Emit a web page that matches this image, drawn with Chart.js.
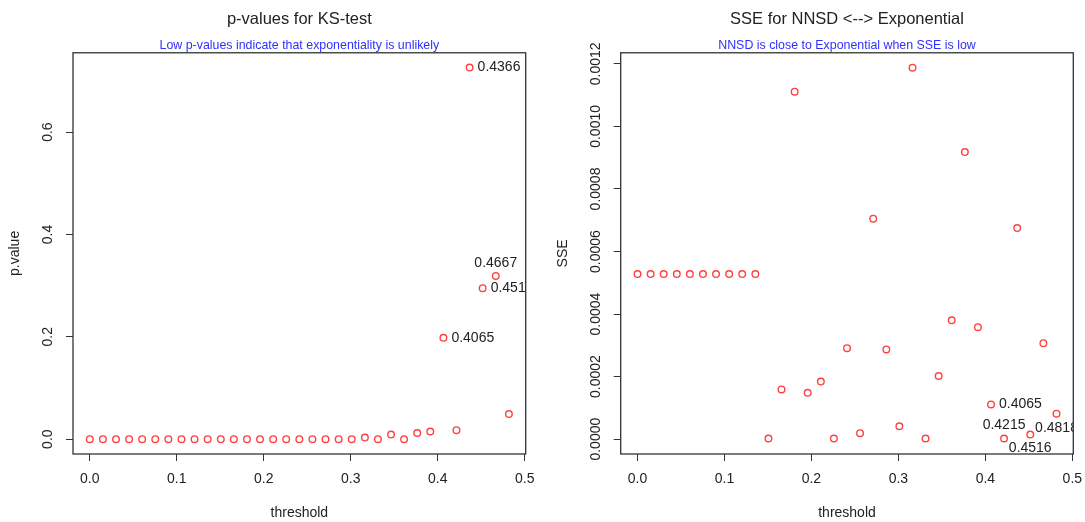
<!DOCTYPE html>
<html>
<head>
<meta charset="utf-8">
<script src="https://cdn.jsdelivr.net/npm/chart.js@4.4.0/dist/chart.umd.min.js"></script>
<style>
  body { margin: 0; background: #fff; }
  #wrap { position: relative; width: 1085px; height: 522px; }
  canvas { position: absolute; top: 0; }
</style>
</head>
<body>
<div id="wrap">
  <canvas id="pChart" width="542" height="522" style="left:0"></canvas>
  <canvas id="sseChart" width="543" height="522" style="left:542px"></canvas>
</div>
<script>
// thresholds (x values shared by both panels)
const thresholds = [0, 0.0151, 0.0301, 0.0452, 0.0602, 0.0753, 0.0903, 0.1054, 0.1204, 0.1355,
  0.1506, 0.1656, 0.1807, 0.1957, 0.2108, 0.2258, 0.2409, 0.2559, 0.271, 0.2861,
  0.3011, 0.3162, 0.3312, 0.3463, 0.3613, 0.3764, 0.3914, 0.4065, 0.4215, 0.4366,
  0.4516, 0.4667, 0.4818];

// KS-test p-values
const pValues = [0, 0, 0, 0, 0, 0, 0, 0, 0, 0,
  0, 0, 0, 0, 0, 0, 0, 0, 0, 0,
  0, 0.003, 0, 0.009, 0, 0.012, 0.015, 0.198, 0.0175, 0.726,
  0.295, 0.319, 0.049];

// SSE NNSD vs exponential
const sseValues = [0.000528, 0.000528, 0.000528, 0.000528, 0.000528, 0.000528, 0.000528, 0.000528, 0.000528, 0.000528,
  0.000002, 0.000159, 0.001111, 0.000148, 0.000184, 0.000002, 0.000291, 0.000019, 0.000705, 0.000287,
  0.0000413, 0.001188, 0.000002, 0.000202, 0.00038, 0.000918, 0.000358, 0.000111, 0.000002, 0.000675,
  0.0000146, 0.000307, 0.0000814];

const xTicks = [0, 0.1, 0.2, 0.3, 0.4, 0.5];
const pTicks = [0, 0.2, 0.4, 0.6];
const sseTicks = [0, 0.0002, 0.0004, 0.0006, 0.0008, 0.0010, 0.0012];

// which points get a threshold label, and where
const pLabelIdx = [27, 29, 30, 31];
const pLabelPos = ['right', 'right', 'right', 'above'];
const sseLabelIdx = [27, 28, 30, 32];
const sseLabelPos = ['right', 'above', 'below', 'below'];

const FONT = "'Liberation Sans', Arial, sans-serif";

// R-like decorations: box, rotated y tick labels, point labels
const rDeco = {
  id: 'rdeco',
  afterDatasetsDraw(chart, args, opts) {
    const { ctx, chartArea: a, scales: { x, y } } = chart;
    ctx.save();
    ctx.beginPath();
    ctx.rect(a.left, a.top, a.right - a.left, a.bottom - a.top);
    ctx.clip();
    ctx.font = '14px ' + FONT;
    ctx.fillStyle = '#222';
    opts.labelIdx.forEach((i, k) => {
      const px = x.getPixelForValue(thresholds[i]);
      const py = y.getPixelForValue(opts.values[i]);
      const txt = thresholds[i].toFixed(4);
      const pos = opts.labelPos[k];
      if (pos === 'right') {
        ctx.textAlign = 'left'; ctx.textBaseline = 'middle';
        ctx.fillText(txt, px + 8, py);
      } else if (pos === 'above') {
        ctx.textAlign = 'center'; ctx.textBaseline = 'middle';
        ctx.fillText(txt, px, py - 13);
      } else {
        ctx.textAlign = 'center'; ctx.textBaseline = 'middle';
        ctx.fillText(txt, px, py + 14);
      }
    });
    ctx.restore();
  },
  afterDraw(chart, args, opts) {
    const { ctx, chartArea: a, scales: { y } } = chart;
    ctx.save();
    ctx.strokeStyle = '#333';
    ctx.lineWidth = 1.3;
    ctx.strokeRect(a.left, a.top, a.right - a.left, a.bottom - a.top);
    ctx.font = '14px ' + FONT;
    ctx.fillStyle = '#222';
    ctx.textAlign = 'center';
    ctx.textBaseline = 'middle';
    y.ticks.forEach(t => {
      ctx.save();
      ctx.translate(a.left - 25, y.getPixelForValue(t.value));
      ctx.rotate(-Math.PI / 2);
      ctx.fillText(t.value.toFixed(opts.decimals), 0, 0);
      ctx.restore();
    });
    ctx.restore();
  }
};

function makeChart(id, o) {
  const ctx = document.getElementById(id).getContext('2d');
  return new Chart(ctx, {
    type: 'scatter',
    data: {
      datasets: [{
        data: thresholds.map((t, i) => ({ x: t, y: o.values[i] })),
        pointStyle: 'circle',
        pointRadius: 3.3,
        pointBorderWidth: 1.4,
        borderColor: '#ff4040',
        backgroundColor: 'rgba(0,0,0,0)'
      }]
    },
    options: {
      responsive: false,
      animation: false,
      devicePixelRatio: 1,
      layout: { padding: { left: 0, right: o.padRight, top: 0, bottom: 0 } },
      plugins: {
        legend: { display: false },
        tooltip: { enabled: false },
        title: {
          display: true, text: o.title, fullSize: false, color: '#222',
          font: { family: FONT, size: 16.5, weight: 'normal' },
          padding: { top: 9.1, bottom: 9 }
        },
        subtitle: {
          display: true, text: o.subtitle, fullSize: false, color: '#3030ff',
          font: { family: FONT, size: 12.4, weight: 'normal' },
          padding: { top: 0, bottom: 0 }
        },
        rdeco: { values: o.values, labelIdx: o.labelIdx, labelPos: o.labelPos, decimals: o.decimals }
      },
      scales: {
        x: {
          type: 'linear', min: -0.0193, max: 0.5011,
          afterBuildTicks: s => { s.ticks = xTicks.map(v => ({ value: v })); },
          afterFit: s => { s.height = 68; s.paddingLeft = 0; s.paddingRight = 0; },
          ticks: { color: '#222', padding: 10, font: { family: FONT, size: 14 }, callback: v => v.toFixed(1) },
          grid: { drawOnChartArea: false, drawTicks: true, tickLength: 7, color: '#333', lineWidth: 1 },
          border: { display: false },
          title: { display: true, text: 'threshold', color: '#222', font: { family: FONT, size: 14 }, padding: { top: 0, bottom: 0 } }
        },
        y: {
          type: 'linear', min: o.yMin, max: o.yMax,
          afterBuildTicks: s => { s.ticks = o.yTicks.map(v => ({ value: v })); },
          afterFit: s => { s.width = o.yWidth; s.paddingTop = 0; s.paddingBottom = 0; },
          ticks: { display: false },
          grid: { drawOnChartArea: false, drawTicks: true, tickLength: 7, color: '#333', lineWidth: 1 },
          border: { display: false },
          title: { display: true, text: o.yTitle, color: '#222', font: { family: FONT, size: 14 }, padding: { top: o.yTitlePad, bottom: 0 } }
        }
      }
    },
    plugins: [rDeco]
  });
}

makeChart('pChart', {
  values: pValues, yMin: -0.029, yMax: 0.755, yTicks: pTicks, decimals: 1,
  title: 'p-values for KS-test',
  subtitle: 'Low p-values indicate that exponentiality is unlikely',
  yTitle: 'p.value', yTitlePad: 7, yWidth: 73, padRight: 16.3,
  labelIdx: pLabelIdx, labelPos: pLabelPos
});

makeChart('sseChart', {
  values: sseValues, yMin: -0.0000475, yMax: 0.0012355, yTicks: sseTicks, decimals: 4,
  title: 'SSE for NNSD <--> Exponential',
  subtitle: 'NNSD is close to Exponential when SSE is low',
  yTitle: 'SSE', yTitlePad: 12.4, yWidth: 78.7, padRight: 11.7,
  labelIdx: sseLabelIdx, labelPos: sseLabelPos
});
</script>
</body>
</html>
